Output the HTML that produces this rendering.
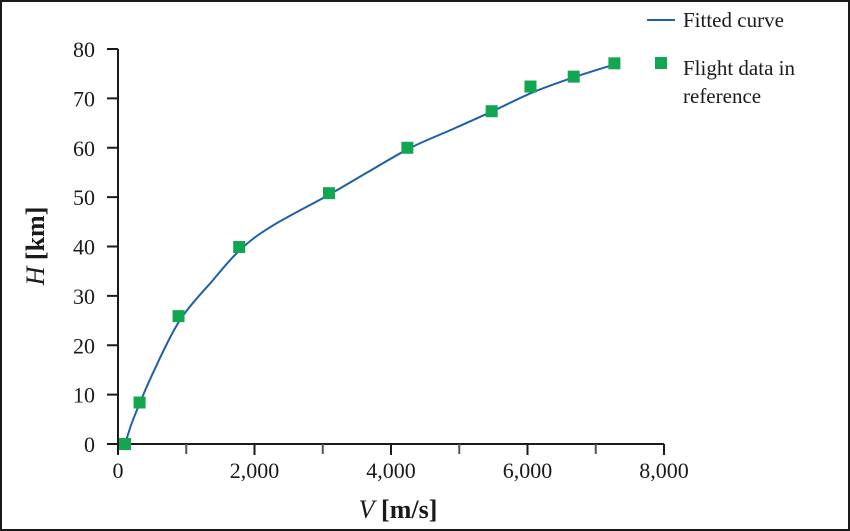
<!DOCTYPE html>
<html><head><meta charset="utf-8"><style>
html,body{margin:0;padding:0;background:#fff;}
svg{display:block;font-family:"Liberation Serif",serif;}
</style></head><body>
<svg id="chart" width="850" height="531" viewBox="0 0 850 531">
<rect x="1" y="1" width="848" height="529" fill="#fff" stroke="#1a1a1a" stroke-width="2"/>
<g id="axes"></g>
<g id="series"></g>
<g>
  <line x1="647" y1="20" x2="675" y2="20" stroke="#1f5fa8" stroke-width="2"/>
  <text x="683" y="27" font-size="21" fill="#1a1a1a">Fitted curve</text>
  <rect x="655" y="57" width="12" height="12" fill="#13a650"/>
  <text x="683" y="75" font-size="21" fill="#1a1a1a">Flight data in</text>
  <text x="683" y="103" font-size="21" fill="#1a1a1a">reference</text>
</g>
<text x="398" y="518" font-size="26" text-anchor="middle" fill="#1a1a1a"><tspan font-style="italic">V</tspan> <tspan font-weight="bold">[m/s]</tspan></text>
<text transform="translate(44,246) rotate(-90)" font-size="26" text-anchor="middle" fill="#1a1a1a"><tspan font-style="italic">H</tspan> <tspan font-weight="bold">[km]</tspan></text>
</svg>
<script>
const xTicks = [0, 2000, 4000, 6000, 8000];
const xTickLabels = ["0", "2,000", "4,000", "6,000", "8,000"];
const xMinorTicks = [1000, 3000, 5000, 7000];
const yTicks = [0, 10, 20, 30, 40, 50, 60, 70, 80];
const dataV = [103, 316, 887, 1776, 3091, 4240, 5475, 6044, 6677, 7273];
const dataH = [0, 8.4, 25.9, 39.9, 50.8, 60.0, 67.4, 72.4, 74.4, 77.1];
const curveV = [105, 220, 513, 908, 1392, 1787, 2240, 3093, 3653, 4286, 4909, 5505, 6075, 6709, 7305];
const curveH = [0, 4.9, 14.4, 25.1, 33.2, 39.3, 44.0, 50.5, 55.0, 60.0, 63.8, 67.5, 71.2, 74.4, 77.0];

const X0 = 118, X1 = 664, Y0 = 444, Y1 = 49;
function sx(v){ return X0 + (v/8000)*(X1-X0); }
function sy(h){ return Y0 - (h/80)*(Y0-Y1); }
const NS = "http://www.w3.org/2000/svg";
function mk(tag, attrs, parent){
  const e = document.createElementNS(NS, tag);
  for (const k in attrs) e.setAttribute(k, attrs[k]);
  parent.appendChild(e);
  return e;
}
const axes = document.getElementById('axes');
const series = document.getElementById('series');

const xa = mk('line', {x1:X0, y1:Y0, x2:X1, y2:Y0, stroke:'#1a1a1a', 'stroke-width':2}, axes);


const ya = mk('line', {x1:X0, y1:Y0+1, x2:X0, y2:Y1, stroke:'#1a1a1a', 'stroke-width':2}, axes);



xTicks.forEach((v, i) => {
  const t = mk('line', {x1:sx(v), y1:Y0, x2:sx(v), y2:Y0+11, stroke:'#1a1a1a', 'stroke-width':2}, axes);
  
  
  const l = mk('text', {x:sx(v), y:478, 'font-size':22, 'text-anchor':'middle', fill:'#1a1a1a'}, axes);
  l.textContent = xTickLabels[i];
  
  
});
xMinorTicks.forEach(v => {
  const t = mk('line', {x1:sx(v), y1:Y0, x2:sx(v), y2:Y0+10, stroke:'#555', 'stroke-width':2}, axes);
  
  
});
yTicks.forEach(h => {
  const t = mk('line', {x1:X0-11, y1:sy(h), x2:X0, y2:sy(h), stroke:'#1a1a1a', 'stroke-width':2}, axes);
  
  
  const l = mk('text', {x:95, y:sy(h)+8, 'font-size':22, 'text-anchor':'end', fill:'#1a1a1a'}, axes);
  l.textContent = String(h);
  
  
});

const pts = curveV.map((v, i) => [sx(v), sy(curveH[i])]);
let d = 'M' + pts[0][0].toFixed(1) + ' ' + pts[0][1].toFixed(1);
for (let i = 0; i < pts.length - 1; i++) {
  const p0 = pts[i-1] || pts[i], p1 = pts[i], p2 = pts[i+1], p3 = pts[i+2] || p2;
  const c1 = [p1[0] + (p2[0]-p0[0])/6, p1[1] + (p2[1]-p0[1])/6];
  const c2 = [p2[0] - (p3[0]-p1[0])/6, p2[1] - (p3[1]-p1[1])/6];
  d += ' C' + c1[0].toFixed(1) + ' ' + c1[1].toFixed(1) + ' ' + c2[0].toFixed(1) + ' ' + c2[1].toFixed(1) + ' ' + p2[0].toFixed(1) + ' ' + p2[1].toFixed(1);
}
const cp = mk('path', {d:d, fill:'none', stroke:'#1f5fa8', 'stroke-width':2, 'stroke-linejoin':'round'}, series);



dataV.forEach((v, i) => {
  const r = mk('rect', {x:sx(v)-6, y:sy(dataH[i])-6, width:12, height:12, fill:'#13a650'}, series);
  
  
});
</script>
</body></html>
